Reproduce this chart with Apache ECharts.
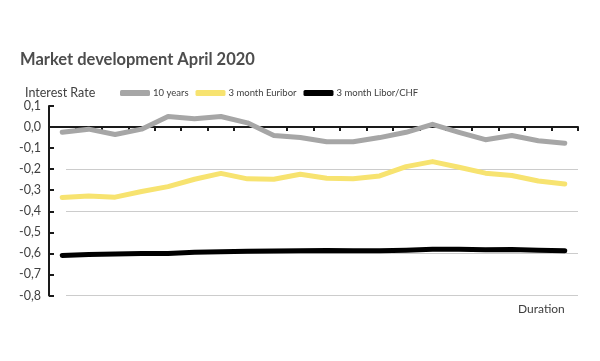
<!DOCTYPE html>
<html>
<head>
<meta charset="utf-8">
<script src="https://cdn.jsdelivr.net/npm/echarts@6/dist/echarts.min.js"></script>
<style>html,body{margin:0;padding:0;background:#fff}#c{width:600px;height:361px}</style>
</head>
<body>
<div id="c"></div>
<script>
var categories = ['1','2','3','4','5','6','7','8','9','10','11','12','13','14','15','16','17','18','19','20'];
var tenYears = [-0.025,-0.01,-0.035,-0.01,0.05,0.04,0.05,0.02,-0.04,-0.05,-0.07,-0.07,-0.05,-0.025,0.013,-0.025,-0.06,-0.04,-0.065,-0.077];
var euribor3m = [-0.335,-0.327,-0.333,-0.306,-0.283,-0.248,-0.22,-0.246,-0.248,-0.224,-0.243,-0.246,-0.232,-0.188,-0.164,-0.191,-0.219,-0.23,-0.256,-0.27];
var liborChf3m = [-0.61,-0.605,-0.603,-0.601,-0.6,-0.595,-0.592,-0.59,-0.589,-0.587,-0.586,-0.588,-0.588,-0.585,-0.58,-0.58,-0.583,-0.582,-0.585,-0.588];
var seriesNames = ['10 years','3 month Euribor','3 month Libor/CHF'];
var seriesColors = ['#a6a6a6','#f7e370','#000000'];

var FONT = 'Lato, "Open Sans", sans-serif';
var chart = echarts.init(document.getElementById('c'), null, {renderer:'canvas'});
function fmt(v){ return v.toFixed(1).replace('.', ','); }
var data = [tenYears, euribor3m, liborChf3m];
var series = seriesNames.map(function(n,i){
  return {
    name:n, type:'line', xAxisIndex:0, yAxisIndex:0, data:data[i], symbol:'none', smooth:false,
    lineStyle:{color:seriesColors[i], width:5, cap:'round', join:'round'},
    itemStyle:{color:seriesColors[i]}, z: 3 + i
  };
});
series.push({type:'line', xAxisIndex:1, yAxisIndex:1, data:[], silent:true});
chart.setOption({
  animation:false,
  title:[
    {text:'Market development April 2020', left:15, top:46, textStyle:{fontFamily:FONT, fontSize:16.5, fontWeight:'bold', color:'#4d4d4d'}},
    {text:'Interest Rate', left:20, top:81, textStyle:{fontFamily:FONT, fontSize:12.5, fontWeight:'normal', color:'#404040'}},
    {text:'Duration', left:513, top:298, textStyle:{fontFamily:FONT, fontSize:12, fontWeight:'normal', color:'#404040'}}
  ],
  legend:{
    left:115, top:83, itemWidth:30, itemHeight:6, itemGap:7, icon:'roundRect',
    data:seriesNames,
    textStyle:{fontFamily:FONT, fontSize:9.5, color:'#404040', padding:[0,0,0,-2]}
  },
  grid:[
    {left:49, right:22, top:106, bottom:65.5, containLabel:false},
    {left:66, right:22, top:169.3, bottom:65.5, containLabel:false}
  ],
  xAxis:[
    {type:'category', gridIndex:0, data:categories, boundaryGap:true,
     axisLine:{onZero:true, lineStyle:{color:'#1a1a1a', width:2}},
     axisTick:{show:true, length:4, lineStyle:{color:'#1a1a1a', width:2}},
     axisLabel:{show:false}, splitLine:{show:false}},
    {type:'category', gridIndex:1, data:categories, show:false}
  ],
  yAxis:[
    {type:'value', gridIndex:0, min:-0.8, max:0.1, interval:0.1,
     axisLine:{show:true, lineStyle:{color:'#1a1a1a', width:2}},
     axisTick:{show:true, inside:true, length:5, lineStyle:{color:'#1a1a1a', width:2}},
     axisLabel:{fontFamily:FONT, fontSize:12.5, color:'#404040', margin:8, formatter:fmt},
     splitLine:{show:false}},
    {type:'value', gridIndex:1, min:-0.8, max:-0.2, interval:0.2,
     axisLine:{show:false}, axisTick:{show:false}, axisLabel:{show:false},
     splitLine:{show:true, lineStyle:{color:'#cccccc', width:1}}}
  ],
  series:series
});
</script>
</body>
</html>
